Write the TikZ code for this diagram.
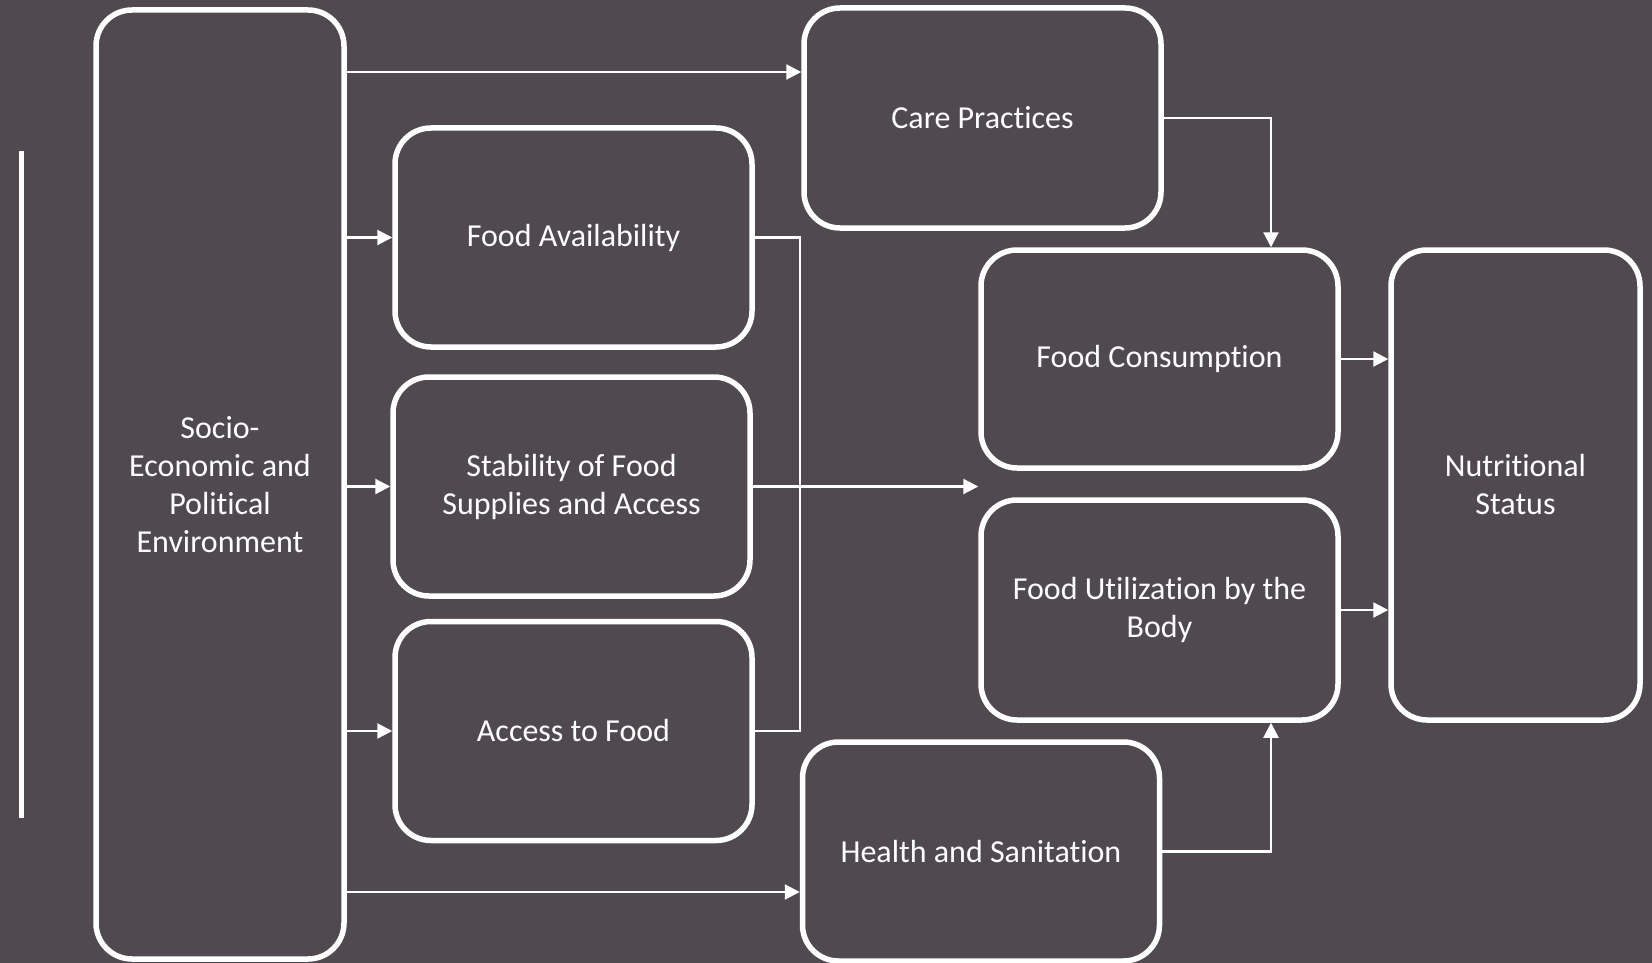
\documentclass[tikz,border=0pt]{standalone}
\usepackage{fontspec}
\setmainfont{Carlito}[RawFeature={-liga;-clig;-calt;-dlig;-rlig}]
\usetikzlibrary{positioning,calc,arrows.meta}
\definecolor{slate}{RGB}{81,73,80}

\begin{document}
\begin{tikzpicture}[x=1pt,y=-1pt,
        box/.style={draw=white,line width=5.5pt,rounded corners=36pt,text=white,align=center,
            inner sep=0pt,minimum width=357pt,minimum height=219pt,font=\fontsize{32}{38}\selectfont},
        link/.style={draw=white,line width=2.2pt},
        arr/.style={link,-{Triangle[length=15pt,width=15pt]}}]
   \useasboundingbox (0,0) rectangle (1652,963);
   \fill[slate] (0,0) rectangle (1652,963);
   \draw[white,line width=5pt] (21,151) -- (21,818);

   \node[box,minimum width=248pt,minimum height=949pt] (socio) at (220,484.5) {Socio-\\Economic and\\Political\\Environment};
   \node[box] (avail) at (573.5,237.5) {Food Availability};
   \node[box] (stab) at (571.5,486.5) {Stability of Food\\Supplies and Access};
   \node[box] (access) at (573.5,731) {Access to Food};
   \node[box,minimum height=220pt] (care) at (982.5,118) {Care Practices};
   \node[box] (health) at (981,851.5) {Health and Sanitation};
   \node[box,minimum height=218pt] (cons) at (1159.5,359) {Food Consumption};
   \node[box,minimum height=220pt] (util) at (1159.5,610) {Food Utilization by the\\Body};
   \node[box,minimum width=249pt,minimum height=470pt] (nutr) at (1515.5,485) {Nutritional\\Status};

   \coordinate (careIn) at (804,72);
   \coordinate (healthIn) at (803,892);
   \coordinate (brk) at (800,486);
   \coordinate (drop) at (1271,0);

   \draw[arr] (socio.east |- careIn) -- (care.west |- careIn);
   \draw[arr] (socio.east |- avail.west) -- (avail.west);
   \draw[arr] (socio.east |- stab.west) -- (stab.west);
   \draw[arr] (socio.east |- access.west) -- (access.west);
   \draw[arr] (socio.east |- healthIn) -- (health.west |- healthIn);

   \draw[link] (avail.east) -| (brk) |- (access.east);
   \draw[arr] (stab.east) -- (stab.east -| cons.west);

   \draw[arr] (care.east) -| (cons.north -| drop);
   \draw[arr] (health.east) -| (util.south -| drop);
   \draw[arr] (cons.east) -- (cons.east -| nutr.west);
   \draw[arr] (util.east) -- (util.east -| nutr.west);
\end{tikzpicture}
\end{document}
